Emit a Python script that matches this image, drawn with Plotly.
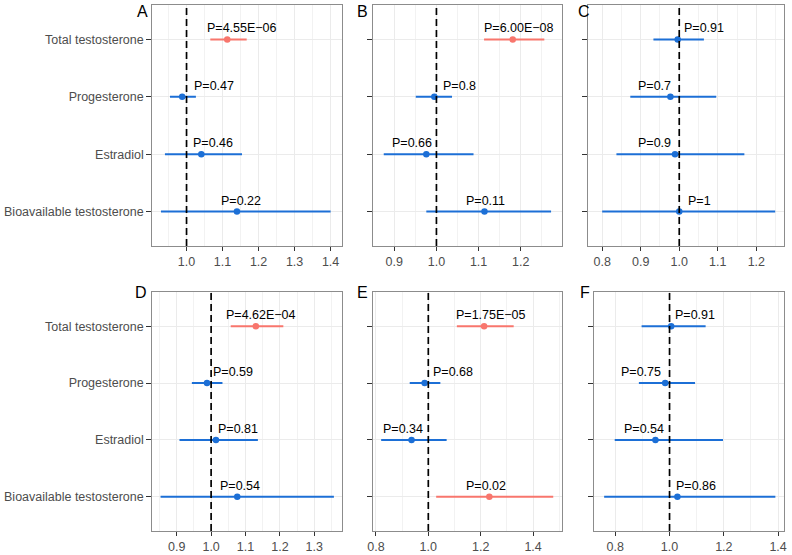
import plotly.graph_objects as go

# rows, bottom to top
hormones = ["Bioavailable testosterone", "Estradiol", "Progesterone", "Total testosterone"]
panels = ["A", "B", "C", "D", "E", "F"]

# odds ratios and 95% CI per panel, same order as hormones
or_A = [1.140, 1.041, 0.988, 1.113]
lo_A = [0.929, 0.940, 0.954, 1.066]
hi_A = [1.400, 1.154, 1.026, 1.167]
p_A = ["P=0.22", "P=0.46", "P=0.47", "P=4.55E\u221206"]

or_B = [1.114, 0.976, 0.995, 1.181]
lo_B = [0.976, 0.875, 0.951, 1.113]
hi_B = [1.272, 1.088, 1.037, 1.256]
p_B = ["P=0.11", "P=0.66", "P=0.8", "P=6.00E\u221208"]

or_C = [1.000, 0.989, 0.977, 0.996]
lo_C = [0.800, 0.837, 0.873, 0.933]
hi_C = [1.249, 1.169, 1.096, 1.064]
p_C = ["P=1", "P=0.9", "P=0.7", "P=0.91"]

or_D = [1.076, 1.014, 0.988, 1.130]
lo_D = [0.853, 0.908, 0.944, 1.057]
hi_D = [1.357, 1.136, 1.033, 1.210]
p_D = ["P=0.54", "P=0.81", "P=0.59", "P=4.62E\u221204"]

or_E = [1.233, 0.936, 0.986, 1.213]
lo_E = [1.030, 0.820, 0.929, 1.109]
hi_E = [1.477, 1.070, 1.046, 1.326]
p_E = ["P=0.02", "P=0.34", "P=0.68", "P=1.75E\u221205"]

or_F = [1.029, 0.948, 0.984, 1.006]
lo_F = [0.759, 0.798, 0.887, 0.897]
hi_F = [1.390, 1.197, 1.094, 1.133]
p_F = ["P=0.86", "P=0.54", "P=0.75", "P=0.91"]

# significant rows drawn in red
sig_A = [False, False, False, True]
sig_B = [False, False, False, True]
sig_C = [False, False, False, False]
sig_D = [False, False, False, True]
sig_E = [True, False, False, True]
sig_F = [False, False, False, False]

# where the P labels sit (x, data units)
lab_A = [1.151, 1.073, 1.075, 1.153]
lab_B = [1.117, 0.941, 1.055, 1.195]
lab_C = [1.053, 0.937, 0.937, 1.064]
lab_D = [1.084, 1.079, 1.064, 1.146]
lab_E = [1.219, 0.905, 1.093, 1.238]
lab_F = [1.096, 0.905, 0.893, 1.094]

data = {
    "A": (or_A, lo_A, hi_A, p_A, sig_A, lab_A),
    "B": (or_B, lo_B, hi_B, p_B, sig_B, lab_B),
    "C": (or_C, lo_C, hi_C, p_C, sig_C, lab_C),
    "D": (or_D, lo_D, hi_D, p_D, sig_D, lab_D),
    "E": (or_E, lo_E, hi_E, p_E, sig_E, lab_E),
    "F": (or_F, lo_F, hi_F, p_F, sig_F, lab_F),
}

W, H = 792, 555
# panel boxes in pixels: left, right, top, bottom
boxes = {
    "A": (148, 340, 5, 246), "B": (371, 562, 5, 246), "C": (589, 787, 5, 246),
    "D": (148, 340, 292, 531), "E": (371, 562, 292, 531), "F": (595, 787, 292, 531),
}
xranges = {
    "A": [0.905, 1.432], "B": [0.849, 1.297], "C": [0.764, 1.272],
    "D": [0.829, 1.381], "E": [0.788, 1.509], "F": [0.7225, 1.422],
}
dticks = {"A": 0.1, "B": 0.1, "C": 0.1, "D": 0.1, "E": 0.2, "F": 0.2}
letter_pos = {"A": (138, 11), "B": (361, 11), "C": (585, 11),
              "D": (137, 292), "E": (361, 292), "F": (586, 292)}

RED = "#F8766D"
BLUE = "#1C6FD6"
FONT = "Liberation Sans, Arial, sans-serif"

fig = go.Figure()
annotations = []
shapes = []

for k, name in enumerate(panels):
    ors, los, his, ps, sig, labx = data[name]
    ax = "" if k == 0 else str(k + 1)
    xa, ya = "x" + ax, "y" + ax
    l, r, t, b = boxes[name]

    for i in range(len(hormones)):
        col = RED if sig[i] else BLUE
        fig.add_trace(go.Scatter(
            x=[ors[i]], y=[i], xaxis=xa, yaxis=ya, mode="markers",
            marker=dict(color=col, size=6.5),
            error_x=dict(type="data", symmetric=False,
                         array=[his[i] - ors[i]], arrayminus=[ors[i] - los[i]],
                         color=col, thickness=2, width=0),
            showlegend=False, hoverinfo="skip"))
        annotations.append(dict(
            x=labx[i], y=i, xref=xa, yref=ya, text=ps[i], showarrow=False,
            xanchor="center", yanchor="middle", yshift=11,
            font=dict(family=FONT, size=12.5, color="black")))

    shapes.append(dict(type="line", xref=xa, yref=ya + " domain",
                       x0=1, x1=1, y0=0, y1=1,
                       line=dict(color="black", width=1.7, dash="7px,4px")))

    lx, ly = letter_pos[name]
    annotations.append(dict(x=lx / W, y=1 - ly / H, xref="paper", yref="paper",
                            text=name, showarrow=False,
                            xanchor="center", yanchor="middle",
                            font=dict(family=FONT, size=16, color="black")))

    show_y = name in ("A", "D")
    fig.layout["xaxis" + ax] = dict(
        domain=[l / W, r / W], range=xranges[name], anchor=ya,
        dtick=dticks[name], tick0=0, tickformat=".1f",
        showgrid=True, gridcolor="#EBEBEB", gridwidth=1,
        minor=dict(dtick=dticks[name] / 2, showgrid=True,
                   gridcolor="#F2F2F2", gridwidth=0.6),
        ticks="outside", ticklen=4, tickcolor="#333333",
        tickfont=dict(family=FONT, size=12.5, color="#4D4D4D"),
        showline=True, linecolor="#8C8C8C", linewidth=1.2, mirror=True,
        zeroline=False, fixedrange=True)
    fig.layout["yaxis" + ax] = dict(
        domain=[1 - b / H, 1 - t / H], range=[-0.6, 3.6], anchor=xa,
        tickvals=list(range(len(hormones))),
        ticktext=hormones if show_y else [""] * len(hormones),
        showgrid=True, gridcolor="#EBEBEB", gridwidth=1,
        ticks="outside", ticklen=5, tickcolor="#333333",
        tickfont=dict(family=FONT, size=12.5, color="#4D4D4D"),
        showline=True, linecolor="#8C8C8C", linewidth=1.2, mirror=True,
        zeroline=False, fixedrange=True)

fig.update_layout(
    width=W, height=H,
    margin=dict(l=0, r=0, t=0, b=0),
    paper_bgcolor="white", plot_bgcolor="white",
    annotations=annotations, shapes=shapes,
    font=dict(family=FONT),
)

# drop the page's default body margin so the figure sits at the window corner
fig.write_html("out.html", config={"displayModeBar": False},
               post_script="document.body.style.margin='0';")
